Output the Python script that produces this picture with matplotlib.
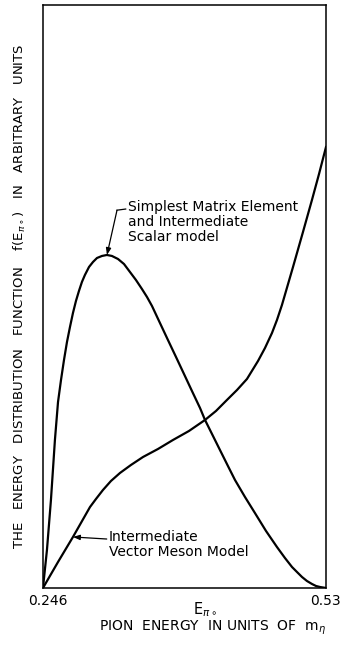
import numpy as np
import matplotlib.pyplot as plt
import matplotlib.transforms as mtransforms

plt.rcParams['font.family'] = ['DejaVu Sans']
plt.rcParams['mathtext.fontset'] = 'dejavusans'

# Pion energy (units of m_eta) and distribution values, arbitrary units
e_scalar = [0.2460, 0.2500, 0.2540, 0.2580, 0.2611, 0.2641, 0.2671, 0.2701,
            0.2731, 0.2761, 0.2791, 0.2821, 0.2851, 0.2881, 0.2922, 0.2962,
            0.3002, 0.3052, 0.3102, 0.3152, 0.3213, 0.3273, 0.3333, 0.3393,
            0.3453, 0.3504, 0.3554, 0.3634, 0.3714, 0.3795, 0.3875, 0.3955,
            0.4036, 0.4086, 0.4156, 0.4236, 0.4316, 0.4387, 0.4487, 0.4587,
            0.4698, 0.4808, 0.4888, 0.4959, 0.5009, 0.5059, 0.5109, 0.5159,
            0.5200, 0.5240, 0.5300]
f_scalar = [0.0000, 0.0652, 0.1509, 0.2539, 0.3190, 0.3568, 0.3911, 0.4220,
            0.4477, 0.4717, 0.4923, 0.5094, 0.5249, 0.5369, 0.5506, 0.5592,
            0.5660, 0.5695, 0.5712, 0.5695, 0.5643, 0.5557, 0.5420, 0.5283,
            0.5129, 0.4991, 0.4837, 0.4545, 0.4254, 0.3962, 0.3671, 0.3379,
            0.3087, 0.2882, 0.2642, 0.2367, 0.2093, 0.1852, 0.1561, 0.1286,
            0.0978, 0.0703, 0.0515, 0.0360, 0.0274, 0.0189, 0.0120, 0.0069,
            0.0034, 0.0017, 0.0000]

e_vector = [0.2460, 0.2611, 0.2761, 0.2932, 0.2992, 0.3062, 0.3142, 0.3233,
            0.3343, 0.3464, 0.3614, 0.3765, 0.3925, 0.4086, 0.4196, 0.4306,
            0.4407, 0.4507, 0.4618, 0.4688, 0.4758, 0.4808, 0.4858, 0.4969,
            0.5069, 0.5159, 0.5230, 0.5300]
f_vector = [0.0000, 0.0446, 0.0875, 0.1389, 0.1527, 0.1681, 0.1835, 0.1973,
            0.2110, 0.2247, 0.2384, 0.2539, 0.2693, 0.2882, 0.3036, 0.3225,
            0.3396, 0.3585, 0.3894, 0.4117, 0.4374, 0.4597, 0.4854, 0.5506,
            0.6106, 0.6655, 0.7101, 0.7564]

x_ticks = [0.246, 0.53]
x_ticklabels = ['0.246', '0.53']

fig = plt.figure(figsize=(3.41, 6.46), dpi=100)
ax = fig.add_axes([0.126, 0.0898, 0.830, 0.9025])

ax.plot(e_scalar, f_scalar, color='black', lw=1.6, solid_joinstyle='round')
ax.plot(e_vector, f_vector, color='black', lw=1.6, solid_joinstyle='round')

ax.set_xlim(0.246, 0.53)
ax.set_ylim(0, 1)
for sp in ax.spines.values():
    sp.set_linewidth(1.1)

ax.set_yticks([])
ax.set_xticks(x_ticks)
ax.set_xticklabels(x_ticklabels, fontsize=10)
ax.tick_params(axis='x', length=0, pad=4)
labs = ax.get_xticklabels()
labs[0].set_transform(labs[0].get_transform() +
                      mtransforms.ScaledTranslation(5 / 100, 0, fig.dpi_scale_trans))
labs[1].set_ha('right')
labs[1].set_transform(labs[1].get_transform() +
                      mtransforms.ScaledTranslation(15 / 100, 0, fig.dpi_scale_trans))

ax.set_ylabel(r'THE   ENERGY   DISTRIBUTION   FUNCTION    f(E$_{\pi\circ}$)   IN   ARBITRARY   UNITS',
              fontsize=9.5)
ax.yaxis.set_label_coords(-0.052, 0.5)

# curve labels with leaders
i_peak = int(np.argmax(f_scalar))
ax.annotate('', xy=(e_scalar[i_peak], f_scalar[i_peak]), xytext=(0.3203, 0.648),
            arrowprops=dict(arrowstyle='-|>,head_length=0.4,head_width=0.15',
                            color='black', lw=0.9, shrinkA=0, shrinkB=0))
ax.plot([0.3203, 0.329], [0.648, 0.650], color='black', lw=0.9)
ax.text(0.331, 0.652, 'Simplest Matrix Element\nand Intermediate\nScalar model',
        fontsize=10, ha='left', va='top', linespacing=1.08,
        transform=ax.transData + mtransforms.ScaledTranslation(0, 8 / 100, fig.dpi_scale_trans))

ax.annotate('', xy=(e_vector[2], f_vector[2]), xytext=(0.310, 0.084),
            arrowprops=dict(arrowstyle='-|>,head_length=0.4,head_width=0.15',
                            color='black', lw=0.9, shrinkA=0, shrinkB=0))
ax.text(0.312, 0.086, 'Intermediate\nVector Meson Model', fontsize=10,
        ha='left', va='top', linespacing=1.08,
        transform=ax.transData + mtransforms.ScaledTranslation(0, 8 / 100, fig.dpi_scale_trans))

fig.text(0.601, 0.056, r'E$_{\pi\circ}$', fontsize=10.5, ha='center', va='center')
fig.text(0.622, 0.028, r'PION  ENERGY  IN UNITS  OF  m$_{\eta}$', fontsize=10,
         ha='center', va='center')

fig.savefig('out.png', dpi=100)
